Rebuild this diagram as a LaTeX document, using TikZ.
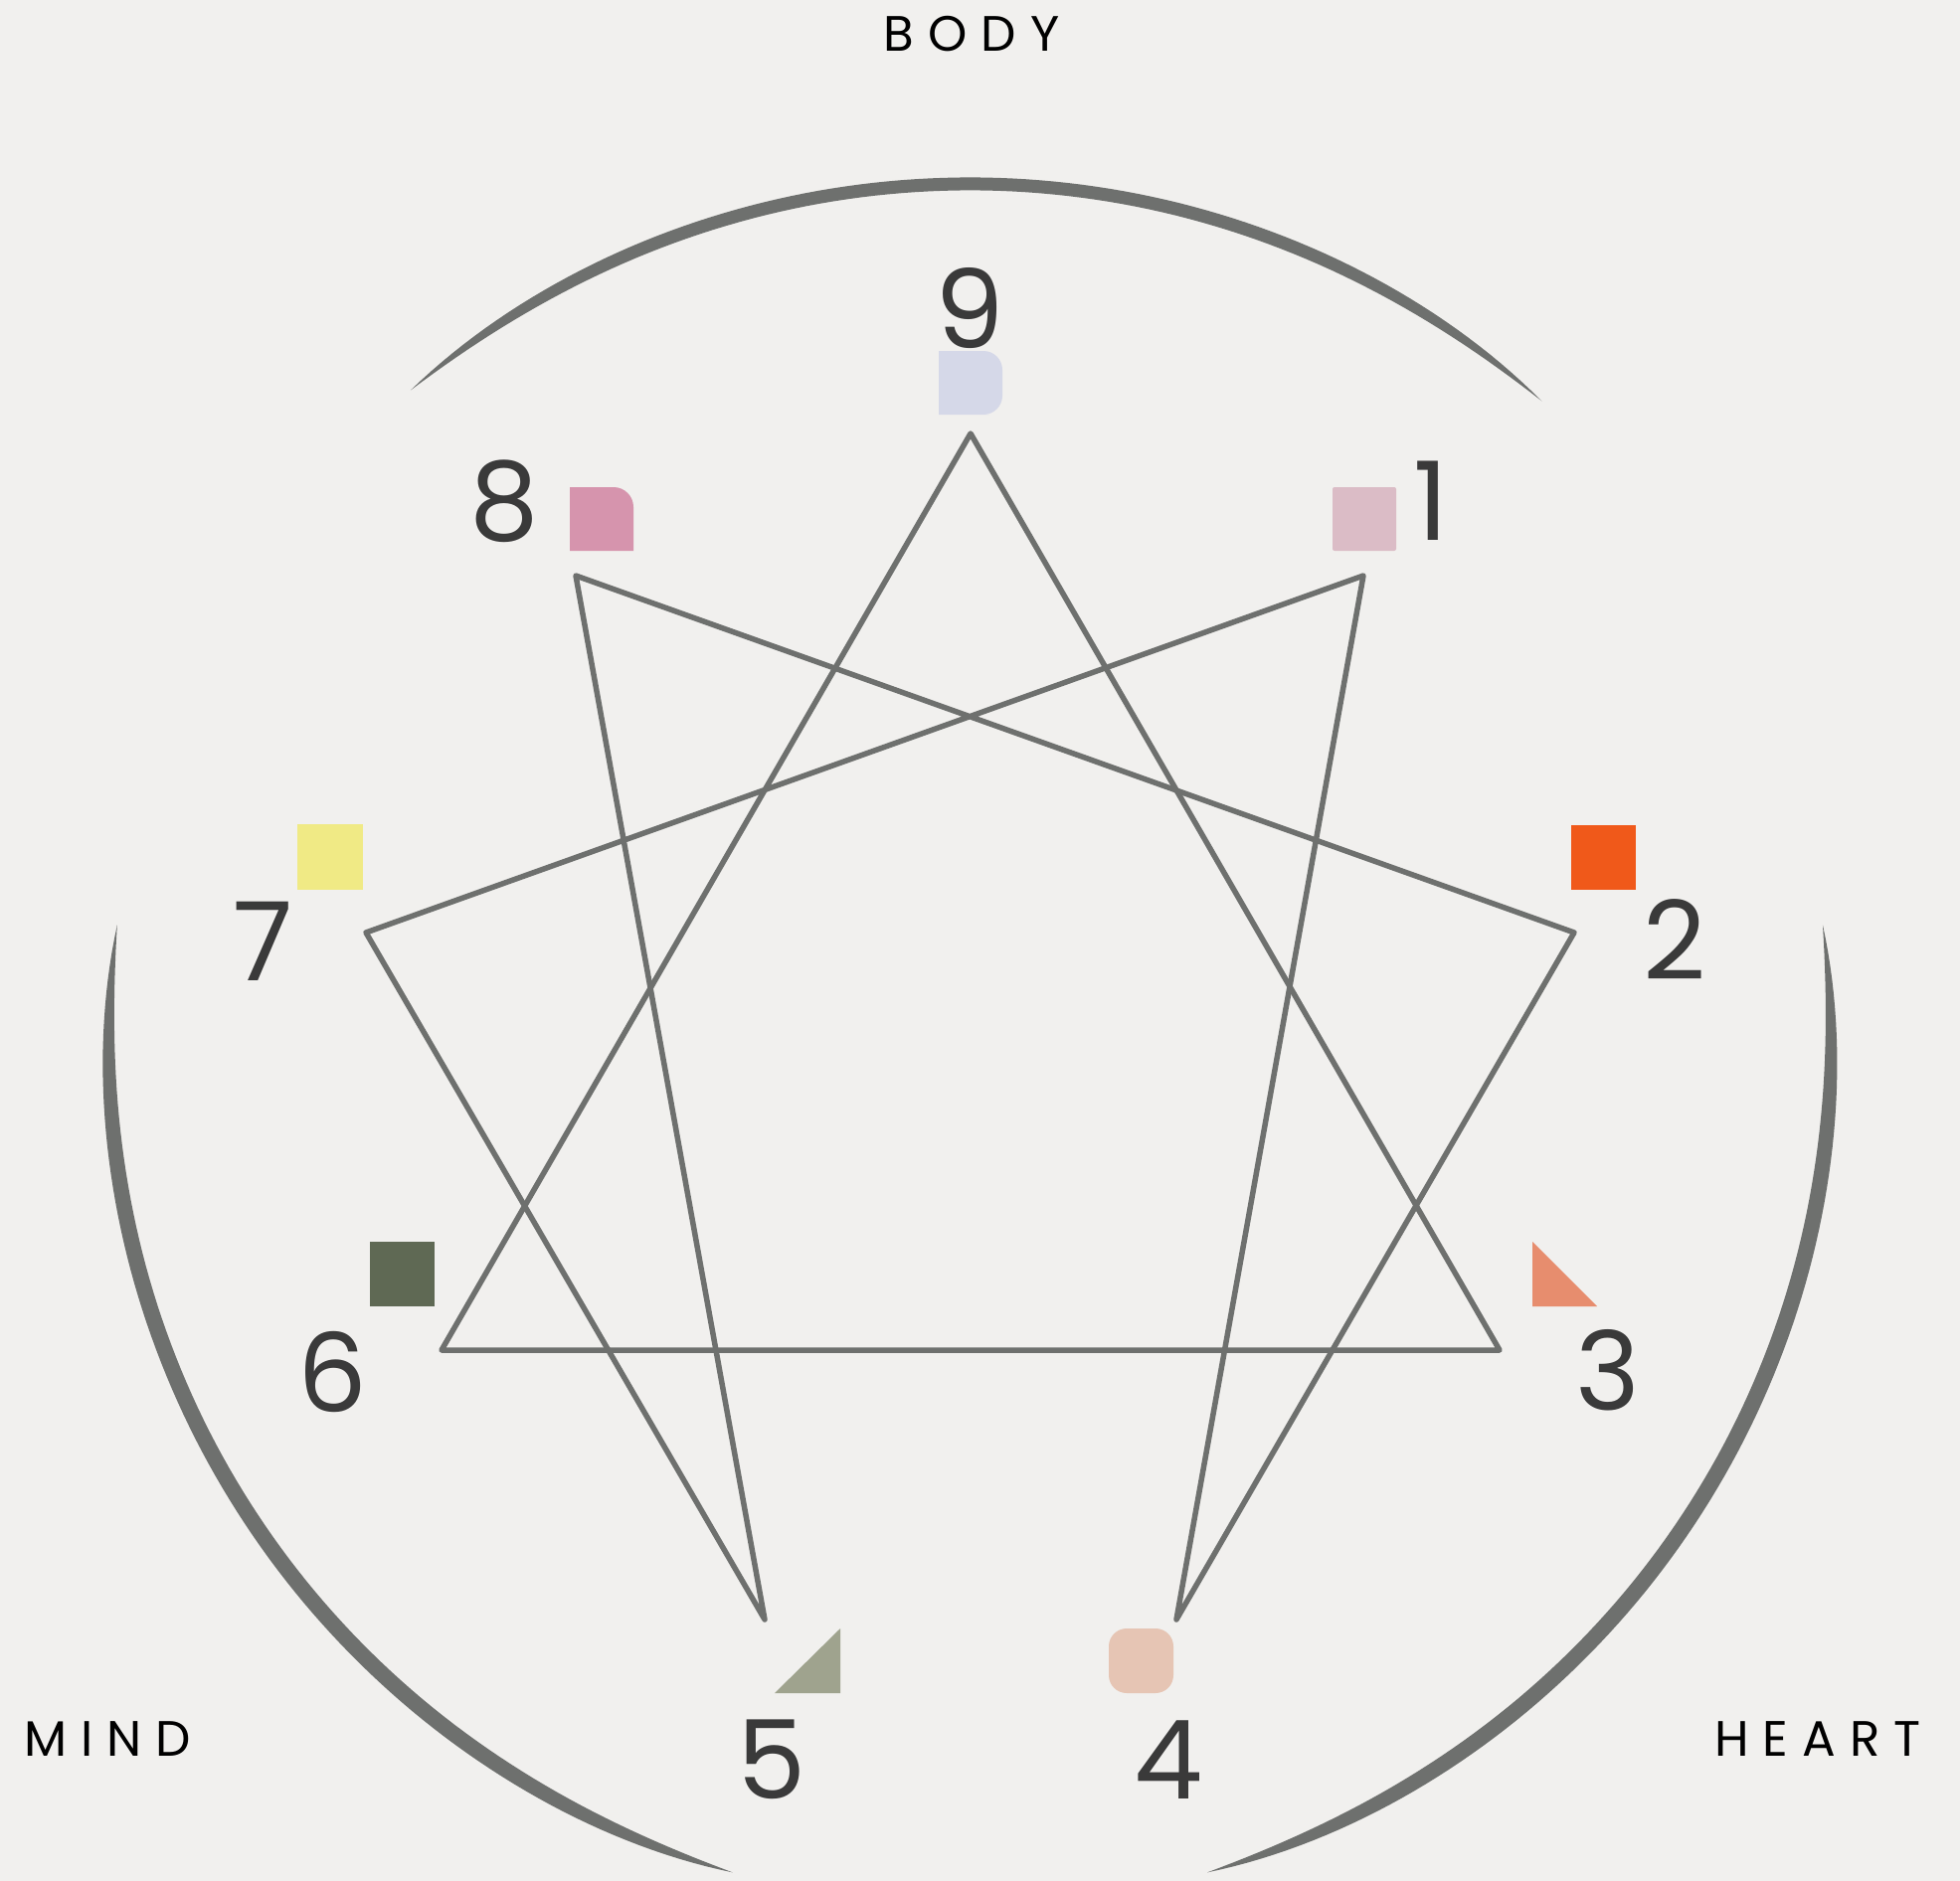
\documentclass[tikz,border=0pt]{standalone}
\usepackage{fontspec}
\setmainfont{Poppins}
\usetikzlibrary{positioning}
\definecolor{EnBg}{RGB}{241, 240, 238}
\definecolor{EnLine}{RGB}{110, 112, 110}
\definecolor{EnInk}{RGB}{58, 58, 58}
\definecolor{EnNine}{RGB}{213, 216, 232}
\definecolor{EnOne}{RGB}{219, 188, 198}
\definecolor{EnTwo}{RGB}{240, 89, 26}
\definecolor{EnThree}{RGB}{231, 141, 110}
\definecolor{EnFour}{RGB}{230, 197, 180}
\definecolor{EnFive}{RGB}{159, 163, 142}
\definecolor{EnSix}{RGB}{95, 105, 84}
\definecolor{EnSeven}{RGB}{240, 234, 133}
\definecolor{EnEight}{RGB}{214, 148, 173}

% brush arc round the figure: start angle, end angle, half width
\newcommand{\brusharc}[3]{%
  \fill[brush] plot[domain=#1:#2, samples=90]
    ({975.4+(866+#3*tp((\x-(#1))/(#2-(#1))))*cos(\x)},
     {1050.9-(866+#3*tp((\x-(#1))/(#2-(#1))))*sin(\x)})
    -- plot[domain=#2:#1, samples=90]
    ({975.4+(866-#3*tp((\x-(#1))/(#2-(#1))))*cos(\x)},
     {1050.9-(866-#3*tp((\x-(#1))/(#2-(#1))))*sin(\x)}) -- cycle;}

\begin{document}
\begin{tikzpicture}[
  x=1pt, y=-1pt,
  num/.style={text=EnInk, inner sep=0pt, font=\fontsize{110}{120}\selectfont},
  centre/.style={text=black, inner sep=0pt,
                 font=\fontsize{50}{56}\selectfont\addfontfeature{LetterSpace=28}},
  star/.style={draw=EnLine, line width=5.5pt, line join=round},
  brush/.style={fill=EnLine},
  declare function={tp(\u)=1-((2*\u-1)*(2*\u-1))*((2*\u-1)*(2*\u-1))*((2*\u-1)*(2*\u-1));}
]
  \fill[EnBg] (0,0) rectangle (1971,1892);
  \useasboundingbox (0,0) rectangle (1971,1892);

  % centres
  \node[centre] (body)  at (977, 34)   {BODY};
  \node[centre] (mind)  at (108, 1749) {MIND};
  \node[centre] (heart) at (1828, 1749) {HEART};

  \brusharc{48.4}{130.5}{6.5}
  \brusharc{172}{254}{8}
  \brusharc{-74}{8}{8}

  % points of the star
  \coordinate (p9) at (976, 436);
  \coordinate (p1) at (1371, 579);
  \coordinate (p2) at (1583, 938);
  \coordinate (p3) at (1508, 1358);
  \coordinate (p4) at (1183, 1629);
  \coordinate (p5) at (769, 1629);
  \coordinate (p6) at (444, 1358);
  \coordinate (p7) at (368, 938);
  \coordinate (p8) at (579, 579);

  \draw[star] (p9) -- (p3) -- (p6) -- cycle;
  \draw[star] (p1) -- (p4) -- (p2) -- (p8) -- (p5) -- (p7) -- cycle;

  % numbers
  \node[num] (n9) at (975, 310)  {9};
  \node[num] (n1) at (1439, 504) {1};
  \node[num] (n2) at (1684, 945) {2};
  \node[num] (n3) at (1617, 1378) {3};
  \node[num] (n4) at (1175, 1770) {4};
  \node[num] (n5) at (776, 1770) {5};
  \node[num] (n6) at (334, 1380) {6};
  \node[num] (n7) at (265, 947)  {7};
  \node[num] (n8) at (507, 504)  {8};

  % markers
  \fill[EnNine] (944,353) -- (976,353) [rounded corners=19] -- (1008,353)
    -- (1008,417) -- (976,417) [sharp corners] -- (944,417) -- cycle;
  \fill[EnEight] (573,554) -- (573,490) [rounded corners=20] -- (637,490)
    [sharp corners] -- (637,554) -- cycle;
  \fill[EnOne, rounded corners=2] (1340,490) rectangle (1404,554);
  \fill[EnTwo] (1580,830) rectangle (1645,895);
  \fill[EnThree] (1541,1249) -- (1541,1314) -- (1606,1314) -- cycle;
  \fill[EnFour, rounded corners=18] (1115,1638) rectangle (1180,1703);
  \fill[EnFive] (845,1638) -- (845,1703) -- (779,1703) -- cycle;
  \fill[EnSix] (372,1249) rectangle (437,1314);
  \fill[EnSeven] (299,829) rectangle (365,895);
\end{tikzpicture}
\end{document}
